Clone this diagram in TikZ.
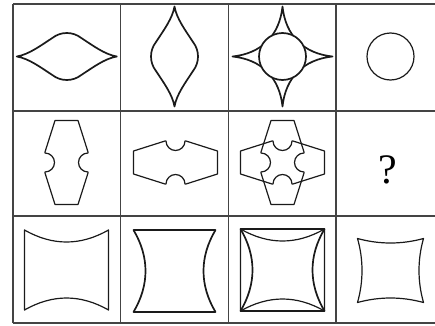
\documentclass[tikz,border=0pt]{standalone}
\usepackage{tikz}
\usepackage{fontspec}
\setmainfont{Liberation Serif}
\definecolor{gridgray}{HTML}{444444}
\definecolor{figblack}{HTML}{1a1a1a}

\begin{document}
\begin{tikzpicture}[x=1pt,y=1pt,
  gridline/.style={gridgray,line width=1.5pt},
  figline/.style={figblack,line width=1.2pt,line join=round},
  boldline/.style={figblack,line width=1.7pt,line join=round}]
  \useasboundingbox (0,0) rectangle (435,325);
  \foreach \y in {2,109,214,321}
    \draw[gridline] (13,\y) -- (435,\y);
  \foreach \x in {13,120.7,228.4,336.1}
    \draw[gridline] (\x,2) -- (\x,321);

  % row 1
  \begin{scope}[shift={(66.8,268.5)}]
    \draw[boldline] (-50,0) .. controls (-38,2) and (-26,11) .. (128:23.5)
      arc[start angle=128,end angle=52,radius=23.5]
      .. controls (26,11) and (38,2) .. (50,0)
      .. controls (38,-2) and (26,-11) .. (-52:23.5)
      arc[start angle=-52,end angle=-128,radius=23.5]
      .. controls (-26,-11) and (-38,-2) .. cycle;
  \end{scope}
  \begin{scope}[shift={(174.5,268.5)},rotate=90]
    \draw[boldline] (-50,0) .. controls (-38,2) and (-26,11) .. (128:23.5)
      arc[start angle=128,end angle=52,radius=23.5]
      .. controls (26,11) and (38,2) .. (50,0)
      .. controls (38,-2) and (26,-11) .. (-52:23.5)
      arc[start angle=-52,end angle=-128,radius=23.5]
      .. controls (-26,-11) and (-38,-2) .. cycle;
  \end{scope}
  \begin{scope}[shift={(282.5,268.5)}]
    \draw[boldline] (-50,0) .. controls (-21,3) and (-3,21) .. (0,50)
      .. controls (3,21) and (21,3) .. (50,0)
      .. controls (21,-3) and (3,-21) .. (0,-50)
      .. controls (-3,-21) and (-21,-3) .. cycle;
    \draw[boldline,fill=white] (0,0) circle[radius=23.5];
  \end{scope}
  \draw[figline] (390.5,268.5) circle[radius=23.5];

  % row 2
  \begin{scope}[shift={(66.5,162.5)},rotate=90]
    \draw[figline] (-42,-11.5) -- (-42,11.5) -- (-10.5,21.5) -- (-9.5,21.5)
      arc[start angle=180,end angle=360,radius=9.5] -- (10.5,21.5) -- (42,11.5)
      -- (42,-11.5) -- (10.5,-21.5) -- (9.5,-21.5)
      arc[start angle=0,end angle=180,radius=9.5] -- (-10.5,-21.5) -- cycle;
  \end{scope}
  \begin{scope}[shift={(175.5,162.5)}]
    \draw[figline] (-42,-11.5) -- (-42,11.5) -- (-10.5,21.5) -- (-9.5,21.5)
      arc[start angle=180,end angle=360,radius=9.5] -- (10.5,21.5) -- (42,11.5)
      -- (42,-11.5) -- (10.5,-21.5) -- (9.5,-21.5)
      arc[start angle=0,end angle=180,radius=9.5] -- (-10.5,-21.5) -- cycle;
  \end{scope}
  \begin{scope}[shift={(282.5,162.5)}]
    \foreach \r in {0,90}
      \draw[figline,rotate=\r] (-42,-11.5) -- (-42,11.5) -- (-10.5,21.5) -- (-9.5,21.5)
        arc[start angle=180,end angle=360,radius=9.5] -- (10.5,21.5) -- (42,11.5)
        -- (42,-11.5) -- (10.5,-21.5) -- (9.5,-21.5)
        arc[start angle=0,end angle=180,radius=9.5] -- (-10.5,-21.5) -- cycle;
  \end{scope}
  \node[font=\fontsize{42}{42}\selectfont] (ask) at (388,155) {?};

  % row 3
  \begin{scope}[shift={(66.5,55)}]
    \draw[figline] (-42,-40) -- (-42,40) .. controls (-14,24) and (14,24) .. (42,40)
      -- (42,-40) .. controls (14,-24) and (-14,-24) .. cycle;
  \end{scope}
  \begin{scope}[shift={(174.5,54)}]
    \draw[boldline] (-41,41) -- (41,41) .. controls (25,14) and (25,-14) .. (41,-41)
      -- (-41,-41) .. controls (-25,-14) and (-25,14) .. cycle;
  \end{scope}
  \begin{scope}[shift={(282.5,55)}]
    \draw[figline] (-42,-41) -- (-42,41) .. controls (-14,25) and (14,25) .. (42,41)
      -- (42,-41) .. controls (14,-25) and (-14,-25) .. cycle;
    \draw[boldline] (-42,41) -- (42,41) .. controls (26,14) and (26,-14) .. (42,-41)
      -- (-42,-41) .. controls (-26,-14) and (-26,14) .. cycle;
  \end{scope}
  \begin{scope}[shift={(390.5,54.5)}]
    \draw[figline] (-33,32) .. controls (-11,26) and (11,26) .. (33,32)
      .. controls (27,11) and (27,-11) .. (33,-32)
      .. controls (11,-26) and (-11,-26) .. (-33,-32)
      .. controls (-27,-11) and (-27,11) .. cycle;
  \end{scope}
\end{tikzpicture}
\end{document}
